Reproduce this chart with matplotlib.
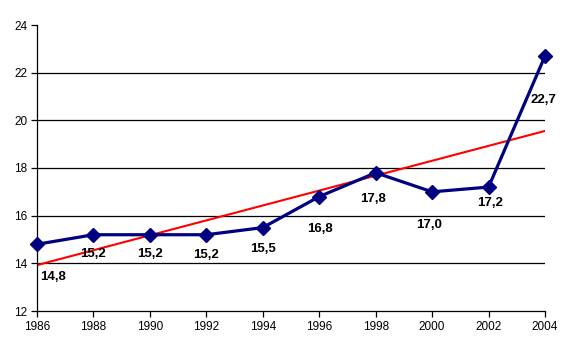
import numpy as np
import matplotlib
matplotlib.use("Agg")
import matplotlib.pyplot as plt

years = [1986, 1988, 1990, 1992, 1994, 1996, 1998, 2000, 2002, 2004]
values = [14.8, 15.2, 15.2, 15.2, 15.5, 16.8, 17.8, 17.0, 17.2, 22.7]
x_ticks = list(range(1986, 2005, 2))
y_ticks = list(range(12, 25, 2))

# label offsets in pixels (dx right, dy down)
label_offsets_px = [(16, 33), (0, 19), (0, 19), (0, 20), (0, 21), (1, 32), (-3, 26), (-3, 33), (2, 16), (-2, 44)]

plt.rcParams['font.family'] = ['Liberation Sans', 'DejaVu Sans']

fig = plt.figure(figsize=(5.76, 3.53), dpi=100)
ax = fig.add_axes([37/576, 1-311/353, (545-37)/576, (311-25)/353])

# gridlines
for yv in y_ticks[1:-1]:
    ax.axhline(yv, color='black', lw=0.9, zorder=1)

# trend line (least squares)
coef = np.polyfit(years, values, 1)
xs = np.array([years[0], years[-1]])
ax.plot(xs, np.polyval(coef, xs), color='#ff0000', lw=1.5, zorder=2)

ax.plot(years, values, color='#000080', lw=2.3, marker='D', markersize=7.5,
        markerfacecolor='#000080', markeredgecolor='#000080', zorder=3, clip_on=False)

for yr, v, (dx, dy) in zip(years, values, label_offsets_px):
    ax.annotate(f"{v:.1f}".replace('.', ','), (yr, v), xytext=(dx*0.72, -dy*0.72),
                textcoords='offset points', ha='center', va='center',
                fontsize=9.5, fontweight='bold', color='black', zorder=4, annotation_clip=False)

ax.set_xlim(1986, 2004)
ax.set_ylim(12, 24)
ax.set_xticks(x_ticks)
ax.set_yticks(y_ticks)
ax.tick_params(axis='both', direction='out', length=4, width=0.9, labelsize=8.5, pad=3, color='black')
for s in ['top', 'right']:
    ax.spines[s].set_visible(False)
for s in ['left', 'bottom']:
    ax.spines[s].set_linewidth(0.9)
    ax.spines[s].set_color('black')

fig.savefig('out.png', dpi=100)
